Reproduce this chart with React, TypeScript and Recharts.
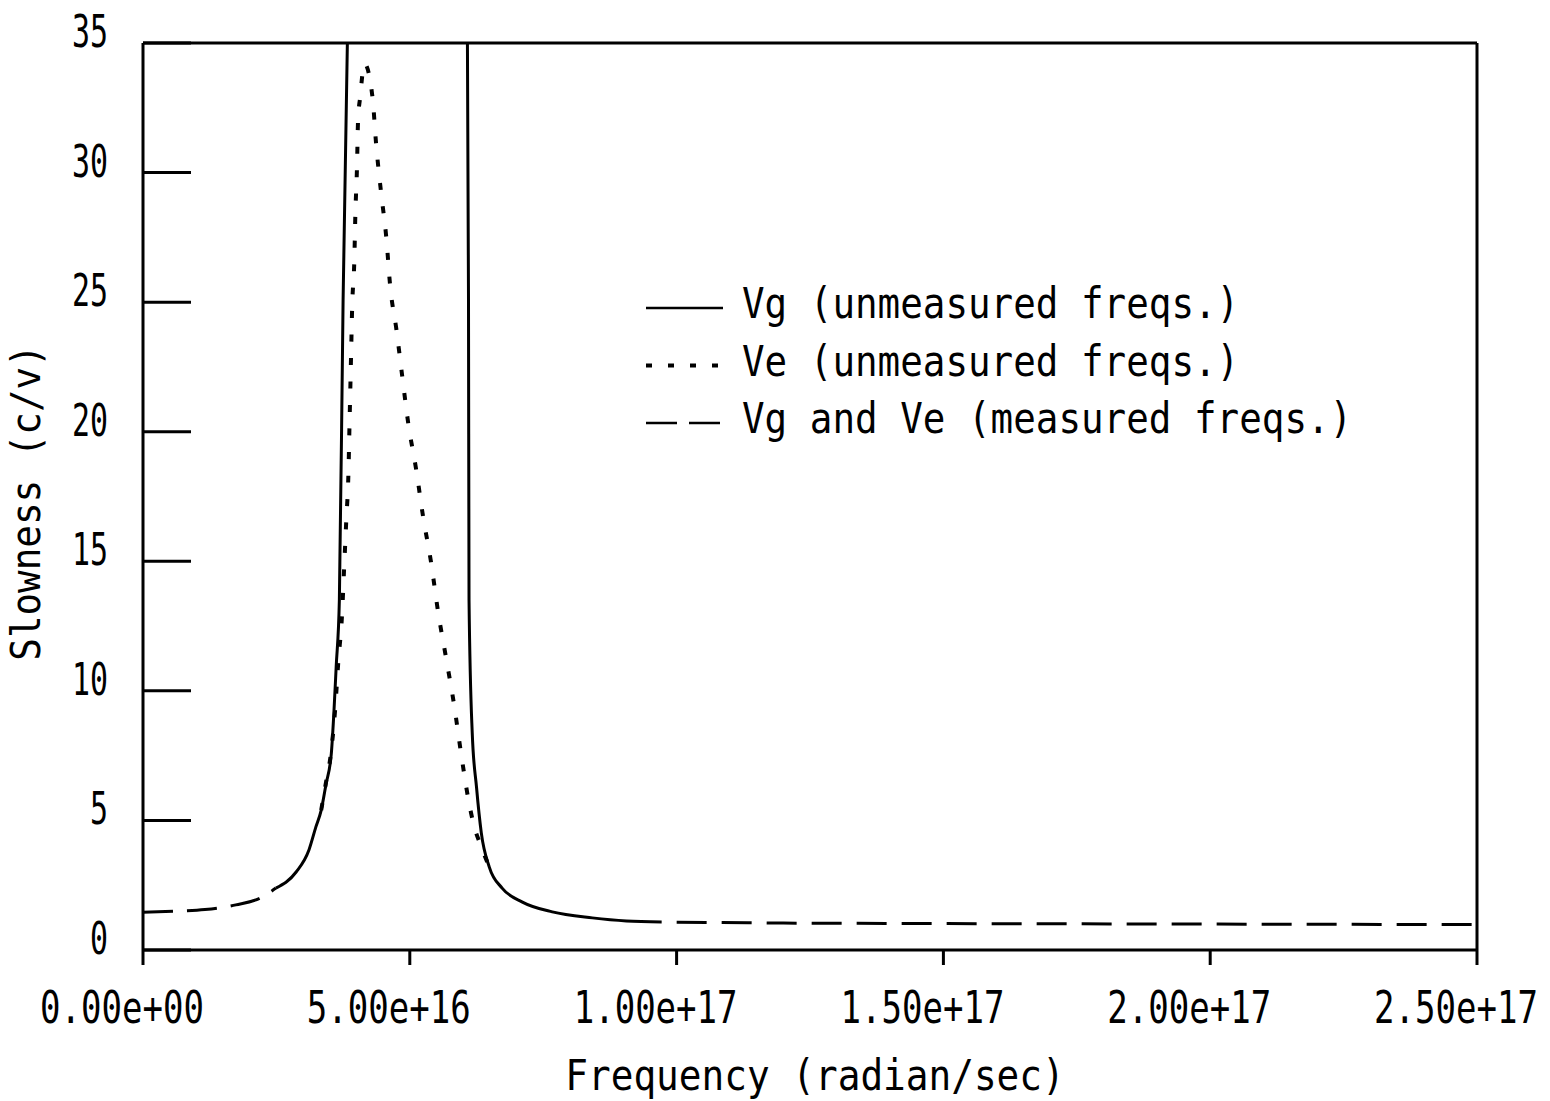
import React from "react";
import { LineChart, Line, XAxis, YAxis, ReferenceLine, Legend, Label } from "recharts";

const FONT = "'DejaVu Sans Mono', 'Liberation Mono', monospace";

// measured band below the resonance (dashed)
const lowMeasuredFreq = [0, 0.6e16, 1.16e16, 1.74e16, 2.27e16, 2.49e16];
const lowMeasuredSlow = [1.46, 1.5, 1.56, 1.74, 2.08, 2.39];

// Vg, unmeasured, below the gap (solid)
const vgLowFreq = [2.49e16, 2.87e16, 3.11e16, 3.24e16, 3.34e16, 3.43e16, 3.53e16, 3.58e16, 3.62e16, 3.68e16, 3.75e16, 3.83e16];
const vgLowSlow = [2.39, 3.01, 3.86, 4.75, 5.4, 6.4, 7.6, 9.26, 10.92, 13.51, 25.09, 35];

// Vg, unmeasured, above the gap (solid)
const vgHighFreq = [6.08e16, 6.1e16, 6.11e16, 6.17e16, 6.25e16, 6.34e16, 6.49e16, 6.73e16, 7.11e16, 7.67e16, 8.42e16, 9.06e16, 9.72e16];
const vgHighSlow = [35, 25.09, 13.51, 8.38, 6.29, 4.52, 3.2, 2.39, 1.85, 1.47, 1.24, 1.12, 1.08];

// Ve, unmeasured (dotted)
const veFreq = [
  3.34e16, 3.43e16, 3.51e16, 3.6e16, 3.66e16, 3.73e16, 3.77e16, 3.81e16, 3.85e16, 3.87e16, 3.9e16, 3.92e16,
  3.96e16, 3.98e16, 4.01e16, 4.03e16, 4.07e16, 4.15e16, 4.3e16, 4.37e16, 4.46e16, 4.56e16, 4.63e16, 4.75e16,
  4.86e16, 4.97e16, 5.12e16, 5.25e16, 5.4e16, 5.53e16, 5.68e16, 5.83e16, 5.96e16, 6.1e16, 6.19e16, 6.34e16, 6.49e16,
];
const veSlow = [
  5.4, 6.48, 7.41, 9.26, 11.12, 12.93, 14.78, 16.6, 18.41, 20.26, 23.0, 24.82,
  26.59, 28.41, 30.18, 32.0, 32.92, 34.2, 32.92, 31.07, 29.26, 27.48, 25.67, 23.93,
  22.11, 20.34, 18.53, 16.71, 14.94, 13.05, 11.27, 9.46, 7.6, 5.79, 4.9, 3.98, 3.2,
];

// measured band above the resonance (dashed)
const highMeasuredFreq = [9.72e16, 1.2e17, 1.5e17, 2.0e17, 2.5e17];
const highMeasuredSlow = [1.08, 1.04, 1.02, 1.0, 0.98];

const xTicks = [0, 5e16, 1e17, 1.5e17, 2e17, 2.5e17];
const yTicks = [0, 5, 10, 15, 20, 25, 30, 35];

const legendLabels = ["Vg (unmeasured freqs.)", "Ve (unmeasured freqs.)", "Vg and Ve (measured freqs.)"];
const legendDash = ["", "6 16", "31 12"];

const toPoints = (xs: number[], ys: number[]) => xs.map((f, i) => ({ freq: f, slow: ys[i] }));

const W = 1550;
const H = 1101;
const PLOT_LEFT = 143;
const PLOT_BOTTOM = 950;

const fmtExp = (v: number) => {
  const [m, e] = v.toExponential(2).split("e");
  return `${m}e${e[0]}${e.slice(1).padStart(2, "0")}`;
};

// condensed plotter-like lettering
const Txt = ({ children, pitch = 22.6, size = 43, ...rest }: any) => (
  <text
    fontFamily={FONT}
    fontSize={size}
    fill="#000"
    textLength={String(children).length * pitch}
    lengthAdjust="spacingAndGlyphs"
    {...rest}
  >
    {children}
  </text>
);

const XTick = ({ x, payload }: any) => {
  const label = fmtExp(payload.value);
  const pitch = 20.5;
  const squeeze = pitch / (0.602 * 44);
  const right = x - 21 + (label.length * pitch) / 2;
  return (
    <g transform={`translate(${right}, ${PLOT_BOTTOM + 73}) scale(${squeeze}, 1)`}>
      <text x={0} y={0} textAnchor="end" fontFamily={FONT} fontSize={44} fill="#000">
        {label}
      </text>
    </g>
  );
};

const YTick = ({ y, payload }: any) => (
  <g>
    <line x1={PLOT_LEFT} x2={PLOT_LEFT + 48} y1={y} y2={y} stroke="#000" strokeWidth={3} />
    <Txt x={108} y={y + 4} textAnchor="end" pitch={18} size={44}>
      {payload.value}
    </Txt>
  </g>
);

const LegendBox = () => (
  <svg width={760} height={170} style={{ overflow: "visible" }}>
    {legendLabels.map((label, i) => {
      const base = 38 + i * 57.5;
      return (
        <g key={label}>
          <line x1={6} x2={83} y1={base - 10} y2={base - 10} stroke="#000" strokeWidth={i === 1 ? 4 : 2.5} strokeDasharray={legendDash[i]} />
          <Txt x={102} y={base}>{label}</Txt>
        </g>
      );
    })}
  </svg>
);

export default function App() {
  return (
    <div style={{ marginLeft: -8, marginTop: -8 }}>
      <LineChart width={W} height={H} margin={{ top: 43, right: 73, bottom: 0, left: 0 }}>
        <XAxis
          type="number"
          dataKey="freq"
          domain={[0, 2.5e17]}
          ticks={xTicks}
          height={151}
          axisLine={{ stroke: "#000", strokeWidth: 3 }}
          tickLine={{ stroke: "#000", strokeWidth: 3 }}
          tickSize={15}
          tick={<XTick />}
          interval={0}
        >
          <Label
            content={({ viewBox }: any) => (
              <Txt x={viewBox.x + viewBox.width / 2 + 5} y={viewBox.y + viewBox.height - 11} textAnchor="middle" pitch={22.7}>
                Frequency (radian/sec)
              </Txt>
            )}
          />
        </XAxis>
        <YAxis
          type="number"
          domain={[0, 35]}
          ticks={yTicks}
          width={143}
          allowDataOverflow
          axisLine={{ stroke: "#000", strokeWidth: 3 }}
          tickLine={false}
          tick={<YTick />}
          interval={0}
        >
          <Label
            content={({ viewBox }: any) => {
              const cx = 40;
              const cy = viewBox.y + viewBox.height / 2 + 6;
              return (
                <Txt x={cx} y={cy} transform={`rotate(-90, ${cx}, ${cy})`} textAnchor="middle" pitch={22.6} size={40}>
                  Slowness (c/v)
                </Txt>
              );
            }}
          />
        </YAxis>
        <ReferenceLine y={35} stroke="#000" strokeWidth={3} />
        <ReferenceLine x={2.5e17} stroke="#000" strokeWidth={3} />
        <Legend
          verticalAlign="middle"
          align="center"
          layout="horizontal"
          content={<LegendBox />}
          wrapperStyle={{ left: 640, top: 280, width: 760, height: 170 }}
        />
        <Line data={toPoints(lowMeasuredFreq, lowMeasuredSlow)} dataKey="slow" type="monotone" stroke="#000" strokeWidth={3} strokeDasharray="30 14" dot={false} activeDot={false} isAnimationActive={false} />
        <Line data={toPoints(vgLowFreq, vgLowSlow)} dataKey="slow" type="monotone" stroke="#000" strokeWidth={3} dot={false} activeDot={false} isAnimationActive={false} />
        <Line data={toPoints(veFreq, veSlow)} dataKey="slow" type="monotone" stroke="#000" strokeWidth={4} strokeDasharray="7 16.5" dot={false} activeDot={false} isAnimationActive={false} />
        <Line data={toPoints(vgHighFreq, vgHighSlow)} dataKey="slow" type="monotone" stroke="#000" strokeWidth={3} dot={false} activeDot={false} isAnimationActive={false} />
        <Line data={toPoints(highMeasuredFreq, highMeasuredSlow)} dataKey="slow" type="monotone" stroke="#000" strokeWidth={3} strokeDasharray="30 15" strokeDashoffset={30} dot={false} activeDot={false} isAnimationActive={false} />
      </LineChart>
    </div>
  );
}
